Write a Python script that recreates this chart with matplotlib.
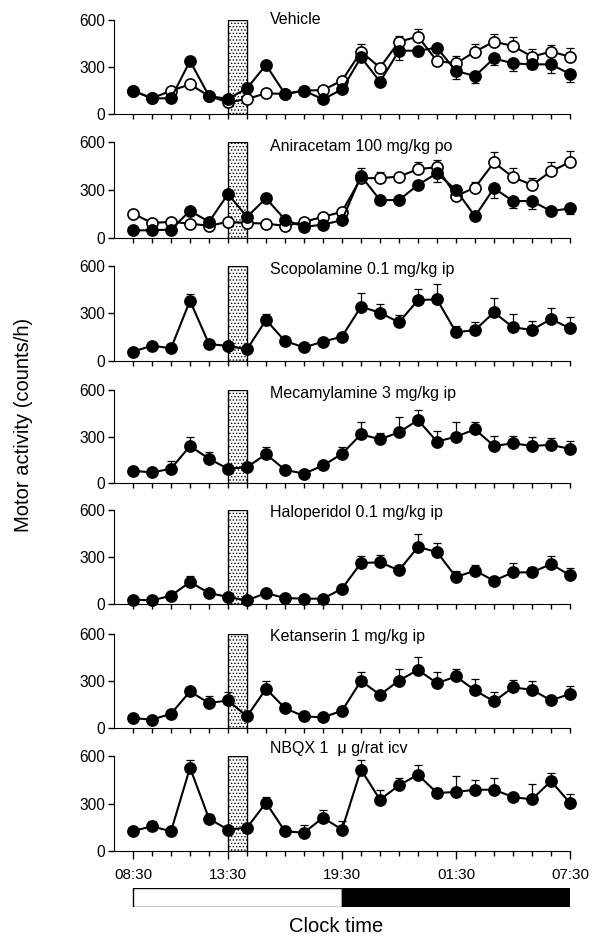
import numpy as np
import matplotlib
matplotlib.use("Agg")
import matplotlib.pyplot as plt
from matplotlib.patches import Rectangle

plt.rcParams['font.family'] = ['Liberation Sans', 'DejaVu Sans']
plt.rcParams['hatch.linewidth'] = 0.6

# hours after 08:30, one point per hour
hours = list(range(24))
tick_pos = [0, 5, 11, 17, 23]
tick_labels = ["08:30", "13:30", "19:30", "01:30", "07:30"]
light_hours = 11   # 08:30 - 19:30 light, then dark
dark_hours = 12

titles = ["Vehicle", "Aniracetam 100 mg/kg po", "Scopolamine 0.1 mg/kg ip",
          "Mecamylamine 3 mg/kg ip", "Haloperidol 0.1 mg/kg ip",
          "Ketanserin 1 mg/kg ip", "NBQX 1  μ g/rat icv"]

# --- Vehicle panel (filled = treated day, open = control day)
veh_fill = [149, 100, 100, 338, 115, 96, 164, 313, 128, 149, 94, 157,
            362, 206, 404, 404, 423, 274, 243, 355, 323, 317, 317, 255]
veh_fill_err = [0, 0, 0, 0, 0, 0, 0, 0, 0, 0, 0, 0,
                0, 0, 60, 34, 0, 53, 43, 43, 49, 30, 53, 49]
veh_open = [149, 100, 149, 189, 115, 74, 96, 132, 128, 149, 153, 213,
            398, 296, 462, 494, 338, 323, 398, 462, 434, 366, 398, 366]
veh_open_err = [0, 0, 0, 0, 0, 0, 0, 0, 0, 0, 0, 0,
                47, 0, 38, 49, 0, 47, 49, 49, 55, 49, 43, 57]

# --- Aniracetam panel
ani_fill = [48, 48, 53, 170, 101, 275, 132, 248, 115, 69, 84, 111,
            388, 237, 237, 332, 405, 300, 136, 311, 231, 231, 168, 185]
ani_fill_err = [0, 0, 0, 0, 0, 0, 0, 0, 0, 0, 0, 0,
                40, 20, 15, 25, 52, 0, 0, 59, 42, 50, 10, 38]
ani_open = [153, 94, 101, 90, 76, 101, 94, 90, 76, 101, 132, 164,
            374, 374, 384, 430, 443, 262, 315, 472, 380, 332, 416, 475]
ani_open_err = [0, 0, 0, 0, 0, 0, 0, 0, 0, 0, 0, 0,
                63, 36, 0, 44, 46, 20, 38, 65, 57, 46, 57, 71]

# --- single-series panels
scop = [59, 97, 80, 381, 107, 95, 74, 259, 126, 86, 122, 154,
        343, 305, 244, 385, 389, 181, 196, 307, 213, 196, 265, 206]
scop_err = [0, 0, 0, 42, 0, 0, 0, 38, 0, 0, 0, 0,
            84, 53, 46, 67, 99, 40, 53, 93, 82, 59, 67, 69]
meca = [79, 68, 92, 239, 156, 92, 102, 186, 85, 60, 113, 188,
        314, 282, 327, 406, 267, 299, 346, 239, 256, 239, 246, 220]
meca_err = [0, 0, 53, 60, 47, 0, 0, 45, 0, 0, 0, 47,
            81, 38, 96, 68, 70, 96, 49, 64, 49, 60, 47, 53]
halo = [28, 23, 53, 140, 70, 45, 23, 70, 38, 34, 34, 98,
        262, 266, 215, 364, 332, 172, 213, 149, 202, 202, 255, 183]
halo_err = [0, 0, 0, 36, 0, 0, 0, 0, 0, 0, 0, 0,
            47, 45, 36, 85, 57, 40, 38, 0, 60, 32, 49, 47]
ketan = [64, 53, 91, 233, 159, 176, 74, 250, 127, 74, 68, 110,
         301, 212, 303, 371, 286, 329, 240, 170, 259, 244, 176, 218]
ketan_err = [0, 0, 0, 25, 47, 53, 0, 47, 0, 0, 0, 0,
             59, 0, 72, 85, 74, 49, 72, 59, 49, 59, 30, 53]
nbqx = [126, 156, 124, 526, 204, 135, 147, 305, 124, 116, 210, 135,
        514, 324, 415, 482, 366, 373, 387, 387, 341, 326, 442, 303]
nbqx_err = [0, 32, 0, 46, 32, 0, 0, 36, 0, 46, 46, 55,
            63, 63, 48, 59, 34, 99, 63, 74, 21, 99, 51, 55]

single = [(scop, scop_err), (meca, meca_err), (halo, halo_err),
          (ketan, ketan_err), (nbqx, nbqx_err)]

W, H = 597, 939
fig = plt.figure(figsize=(W / 100, H / 100), dpi=100)

# panel top/bottom in pixels
rows = [(20, 114), (142, 238), (266, 361), (390, 483), (510, 604), (634, 728), (756, 851)]
left_px, right_px = 114, 570
title_y = [600, 575, 575, 578, 585, 585, 645]


def style_axes(ax, bottom):
    ax.set_xlim(-1, 23)
    ax.set_ylim(0, 600)
    ax.spines['top'].set_visible(False)
    ax.spines['right'].set_visible(False)
    ax.set_yticks([0, 300, 600])
    ax.tick_params(axis='y', labelsize=11.2, length=4.5, width=1, pad=2)
    ax.set_xticks(hours, minor=True)
    ax.tick_params(axis='x', which='minor', length=3.5, width=1)
    if bottom:
        ax.set_xticks(tick_pos)
        ax.set_xticklabels(tick_labels, fontsize=11)
        ax.tick_params(axis='x', which='major', length=6, width=1, pad=6)
    else:
        ax.set_xticks([])
    # injection period
    ax.add_patch(Rectangle((5, 0), 1, 600, facecolor='white', edgecolor='black',
                           hatch='.....', lw=1, zorder=1))


def draw(ax, vals, err, filled, down=False):
    e = np.array(err)
    yerr = [e, np.zeros_like(e)] if down else [np.zeros_like(e), e]
    ax.errorbar(hours, vals, yerr=yerr, fmt='none', ecolor='black',
                elinewidth=0.9, capsize=3, capthick=0.9, zorder=2, clip_on=False)
    ax.plot(hours, vals, color='black', lw=1.5, marker='o', ms=8,
            mfc='black' if filled else 'white', mec='black', mew=1.2,
            zorder=3, clip_on=False)


for i, (top, bot) in enumerate(rows):
    ax = fig.add_axes([left_px / W, 1 - bot / H, (right_px - left_px) / W, (bot - top) / H])
    style_axes(ax, i == len(rows) - 1)
    if i == 0:
        draw(ax, veh_open, veh_open_err, False)
        draw(ax, veh_fill, veh_fill_err, True, down=True)
    elif i == 1:
        draw(ax, ani_open, ani_open_err, False)
        draw(ax, ani_fill, ani_fill_err, True, down=True)
    else:
        vals, err = single[i - 2]
        draw(ax, vals, err, True)
    ax.text(7.2, title_y[i], titles[i], fontsize=11.5, va='center', ha='left', zorder=5)

# light/dark bar
bar = fig.add_axes([left_px / W, 1 - 907 / H, (right_px - left_px) / W, 19 / H])
bar.set_xlim(-1, 23)
bar.set_ylim(0, 1)
bar.barh(0.5, light_hours, left=0, height=1, color='white', edgecolor='black', lw=1)
bar.barh(0.5, dark_hours, left=light_hours, height=1, color='black', edgecolor='black', lw=1)
bar.axis('off')

fig.text(24 / W, 1 - 425 / H, "Motor activity (counts/h)", rotation=90,
         ha='center', va='center', fontsize=14.5)
fig.text(336 / W, 1 - 927 / H, "Clock time", ha='center', va='center', fontsize=14.5)

fig.savefig("out.png", dpi=100)
